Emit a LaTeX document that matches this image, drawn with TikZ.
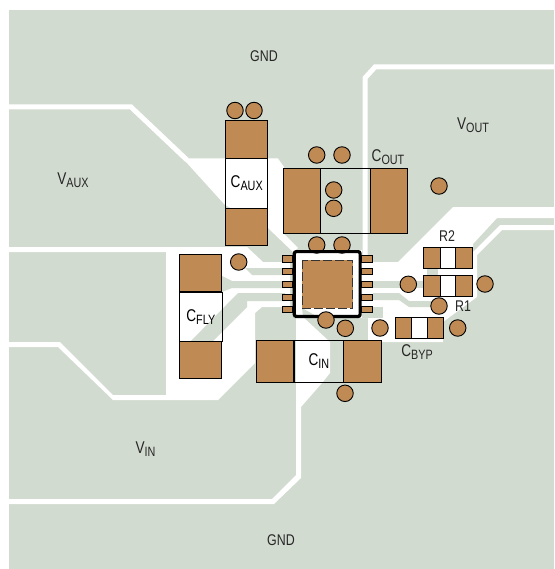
\documentclass[tikz,border=0pt]{standalone}
\usepackage{fontspec}
\setmainfont{Liberation Sans}[FakeStretch=0.8]
\usetikzlibrary{positioning}
\definecolor{boardgreen}{HTML}{D2DBCF}
\definecolor{padbrown}{HTML}{C08A54}
\newcommand{\lblsub}[2]{\fontsize{17}{18}\selectfont #1\raisebox{-3pt}{\fontsize{13.5}{14}\selectfont #2}}
\tikzset{
	plane/.style={fill=white,draw=none},
	strip/.style={fill=boardgreen,draw=none},
	trace/.style={draw=white,line width=5pt,miter limit=4},
	pad/.style={draw=black,line width=1pt,fill=padbrown,inner sep=0pt,outer sep=0pt},
	body/.style={draw=black,line width=.7pt,inner sep=0pt,outer sep=0pt},
	via/.style={circle,draw=black,line width=.9pt,fill=padbrown,inner sep=0pt,minimum size=16.5pt},
	pin/.style={pad,minimum width=10.5pt,minimum height=6.2pt},
	lbl/.style={inner sep=0pt,font=\fontsize{15.5}{16}\selectfont,text=black!85}
}
\begin{document}
\begin{tikzpicture}[x=1pt,y=-1pt,node distance=6.5pt]
	\useasboundingbox (0,0) rectangle (554,569);
	\fill[boardgreen] (9,10) rectangle (554,569);
	\draw[trace] (9,107) -- (131,107) -- (187,160);
	\draw[trace] (365,265) -- (365,78) -- (375,67) -- (554,67);
	\path[plane] (183,158.5) -- (278,158.5) -- (284,167) -- (284,234) -- (298,248) -- (293,252) -- (268,228) -- (225,205) -- (186,162) -- cycle;
	\path[plane] (9,247) -- (247,247) -- (263,262) -- (290,262) -- (290,307) -- (262,307) -- (255,313) -- (255,363) -- (218,400) -- (113,400) -- (58,347) -- (9,347) -- (9,342) -- (60,342) -- (113,395) -- (166,395) -- (166,252) -- (9,252) -- cycle;
	\path[plane] (296,317) -- (303,317) -- (330,342) -- (330,373) -- (322,383) -- (301,407) -- (301,478) -- (274,504) -- (9,504) -- (9,499) -- (272,499) -- (296,475) -- cycle;
	\path[plane] (362,262) -- (398,262) -- (453,207) -- (554,207) -- (554,218) -- (497,218) -- (473,244) -- (473,252) -- (500,225) -- (554,225) -- (554,230) -- (502,230) -- (477,255) -- (477,297) -- (443,322) -- (443,342) -- (368,342) -- (368,318) -- (362,318) -- cycle;
	\path[plane] (294,250) rectangle (362,318);
	\path[strip] (245,268) -- (285,268) -- (285,275) -- (252,275) -- cycle;
	\path[strip] (222,276) -- (232,281) -- (285,281) -- (285,288) -- (232,288) -- (222,292) -- cycle;
	\path[strip] (285,293) -- (238,293) -- (190,342) -- (212,342) -- (247,307) -- (247,301) -- (285,301) -- cycle;
	\path[strip] (362,281) -- (423,281) -- (423,288) -- (362,288) -- cycle;
	\path[strip] (427,266) -- (438,266) -- (438,282) -- (427,282) -- cycle;
	\path[strip] (373,293) -- (399,293) -- (409,301) -- (432,301) -- (432,307) -- (409,307) -- (399,300) -- (373,300) -- cycle;
	\path[strip] (362,307) -- (383,307) -- (383,318) -- (362,318) -- cycle;
	\path[strip] (302,308) -- (318,317) -- (303,317) -- cycle;

	\node[pin] (p_1) at (287.5,259) {};
	\node[pin] [below=of p_1] (p_2) {};
	\node[pin] [below=of p_2] (p_3) {};
	\node[pin] [below=of p_3] (p_4) {};
	\node[pin] [below=of p_4] (p_5) {};
	\node[pin] (p_10) at (367,259) {};
	\node[pin] [below=of p_10] (p_9) {};
	\node[pin] [below=of p_9] (p_8) {};
	\node[pin] [below=of p_8] (p_7) {};
	\node[pin] [below=of p_7] (p_6) {};
	\node[via] (v_ict1) at (316.7,245) {};
	\node[via] (v_ict2) at (342,245) {};
	\node[pad,fill=padbrown,draw=none,minimum width=50.4pt,minimum height=48.3pt] (ep) at (327.5,284.2) {};
	\draw[black!80,line width=1pt,dash pattern=on 9pt off 3pt] (ep.north west) rectangle (ep.south east);
	\draw[line width=3.2pt,rounded corners=2pt] (294.3,251.6) rectangle (360.1,316.5);
	\node[via] (v_icb1) at (326,320) {};
	\node[via] (v_icb2) at (345.3,328.3) {};

	\node[pad,minimum width=42pt,minimum height=37.6pt] (caux_a) at (246.7,139.5) {};
	\node[body,minimum width=42pt,minimum height=50pt] [below=0pt of caux_a] (caux_b) {\lblsub{C}{AUX}};
	\node[pad,minimum width=42pt,minimum height=36.7pt] [below=0pt of caux_b] (caux_c) {};
	\node[pad,minimum width=37.2pt,minimum height=65.2pt] (cout_a) at (301.9,201.1) {};
	\node[body,minimum width=50pt,minimum height=65.2pt] [right=0pt of cout_a] (cout_b) {};
	\node[pad,minimum width=37.2pt,minimum height=65.2pt] [right=0pt of cout_b] (cout_c) {};
	\node[pad,minimum width=42.3pt,minimum height=37.3pt] (cfly_a) at (200.8,273.3) {};
	\node[body,minimum width=42.3pt,minimum height=49.7pt] [below=0pt of cfly_a] (cfly_b) {\lblsub{C}{FLY}};
	\node[pad,minimum width=42.3pt,minimum height=37.3pt] [below=0pt of cfly_b] (cfly_c) {};
	\node[pad,minimum width=37.3pt,minimum height=41.6pt] (cin_a) at (275.3,361.5) {};
	\node[body,minimum width=50pt,minimum height=41.6pt] [right=0pt of cin_a] (cin_b) {\lblsub{C}{IN}};
	\node[pad,minimum width=37.3pt,minimum height=41.6pt] [right=0pt of cin_b] (cin_c) {};
	\node[pad,minimum width=16.5pt,minimum height=21pt] (r2_a) at (432.2,257.8) {};
	\node[body,minimum width=15.3pt,minimum height=21pt] [right=0pt of r2_a] (r2_b) {};
	\node[pad,minimum width=16.5pt,minimum height=21pt] [right=0pt of r2_b] (r2_c) {};
	\node[pad,minimum width=16.5pt,minimum height=21pt] (r1_a) at (432.2,286) {};
	\node[body,minimum width=15.3pt,minimum height=21pt] [right=0pt of r1_a] (r1_b) {};
	\node[pad,minimum width=16.5pt,minimum height=21pt] [right=0pt of r1_b] (r1_c) {};
	\node[pad,minimum width=16.5pt,minimum height=21pt] (cbyp_a) at (403.5,327.8) {};
	\node[body,minimum width=15.3pt,minimum height=21pt] [right=0pt of cbyp_a] (cbyp_b) {};
	\node[pad,minimum width=16.5pt,minimum height=21pt] [right=0pt of cbyp_b] (cbyp_c) {};

	\node[via] (v_1) at (235,110.5) {};
	\node[via] (v_2) at (254,110.5) {};
	\node[via] (v_3) at (316.7,155) {};
	\node[via] (v_4) at (342,155) {};
	\node[via] (v_5) at (333.7,190) {};
	\node[via] (v_6) at (333.7,208.3) {};
	\node[via] (v_7) at (439,186) {};
	\node[via] (v_8) at (238.7,262) {};
	\node[via] (v_9) at (380,328) {};
	\node[via] (v_10) at (345,393.3) {};
	\node[via] (v_11) at (408.3,284.3) {};
	\node[via] (v_12) at (485,284) {};
	\node[via] (v_13) at (439,306) {};
	\node[via] (v_14) at (457.7,328) {};

	\node[lbl] (l_gnd1) at (264,56) {GND};
	\node[lbl] (l_gnd2) at (281,540) {GND};
	\node[lbl] (l_vout) at (473,125) {\lblsub{V}{OUT}};
	\node[lbl] (l_vaux) at (73,180) {\lblsub{V}{AUX}};
	\node[lbl] (l_vin) at (145.5,449) {\lblsub{V}{IN}};
	\node[lbl] (l_cout) at (388,157) {\lblsub{C}{OUT}};
	\node[lbl] (l_cbyp) at (417,352) {\lblsub{C}{BYP}};
	\node[lbl] (l_r2) at (447,236) {R2};
	\node[lbl] (l_r1) at (463,306) {R1};
\end{tikzpicture}
\end{document}
